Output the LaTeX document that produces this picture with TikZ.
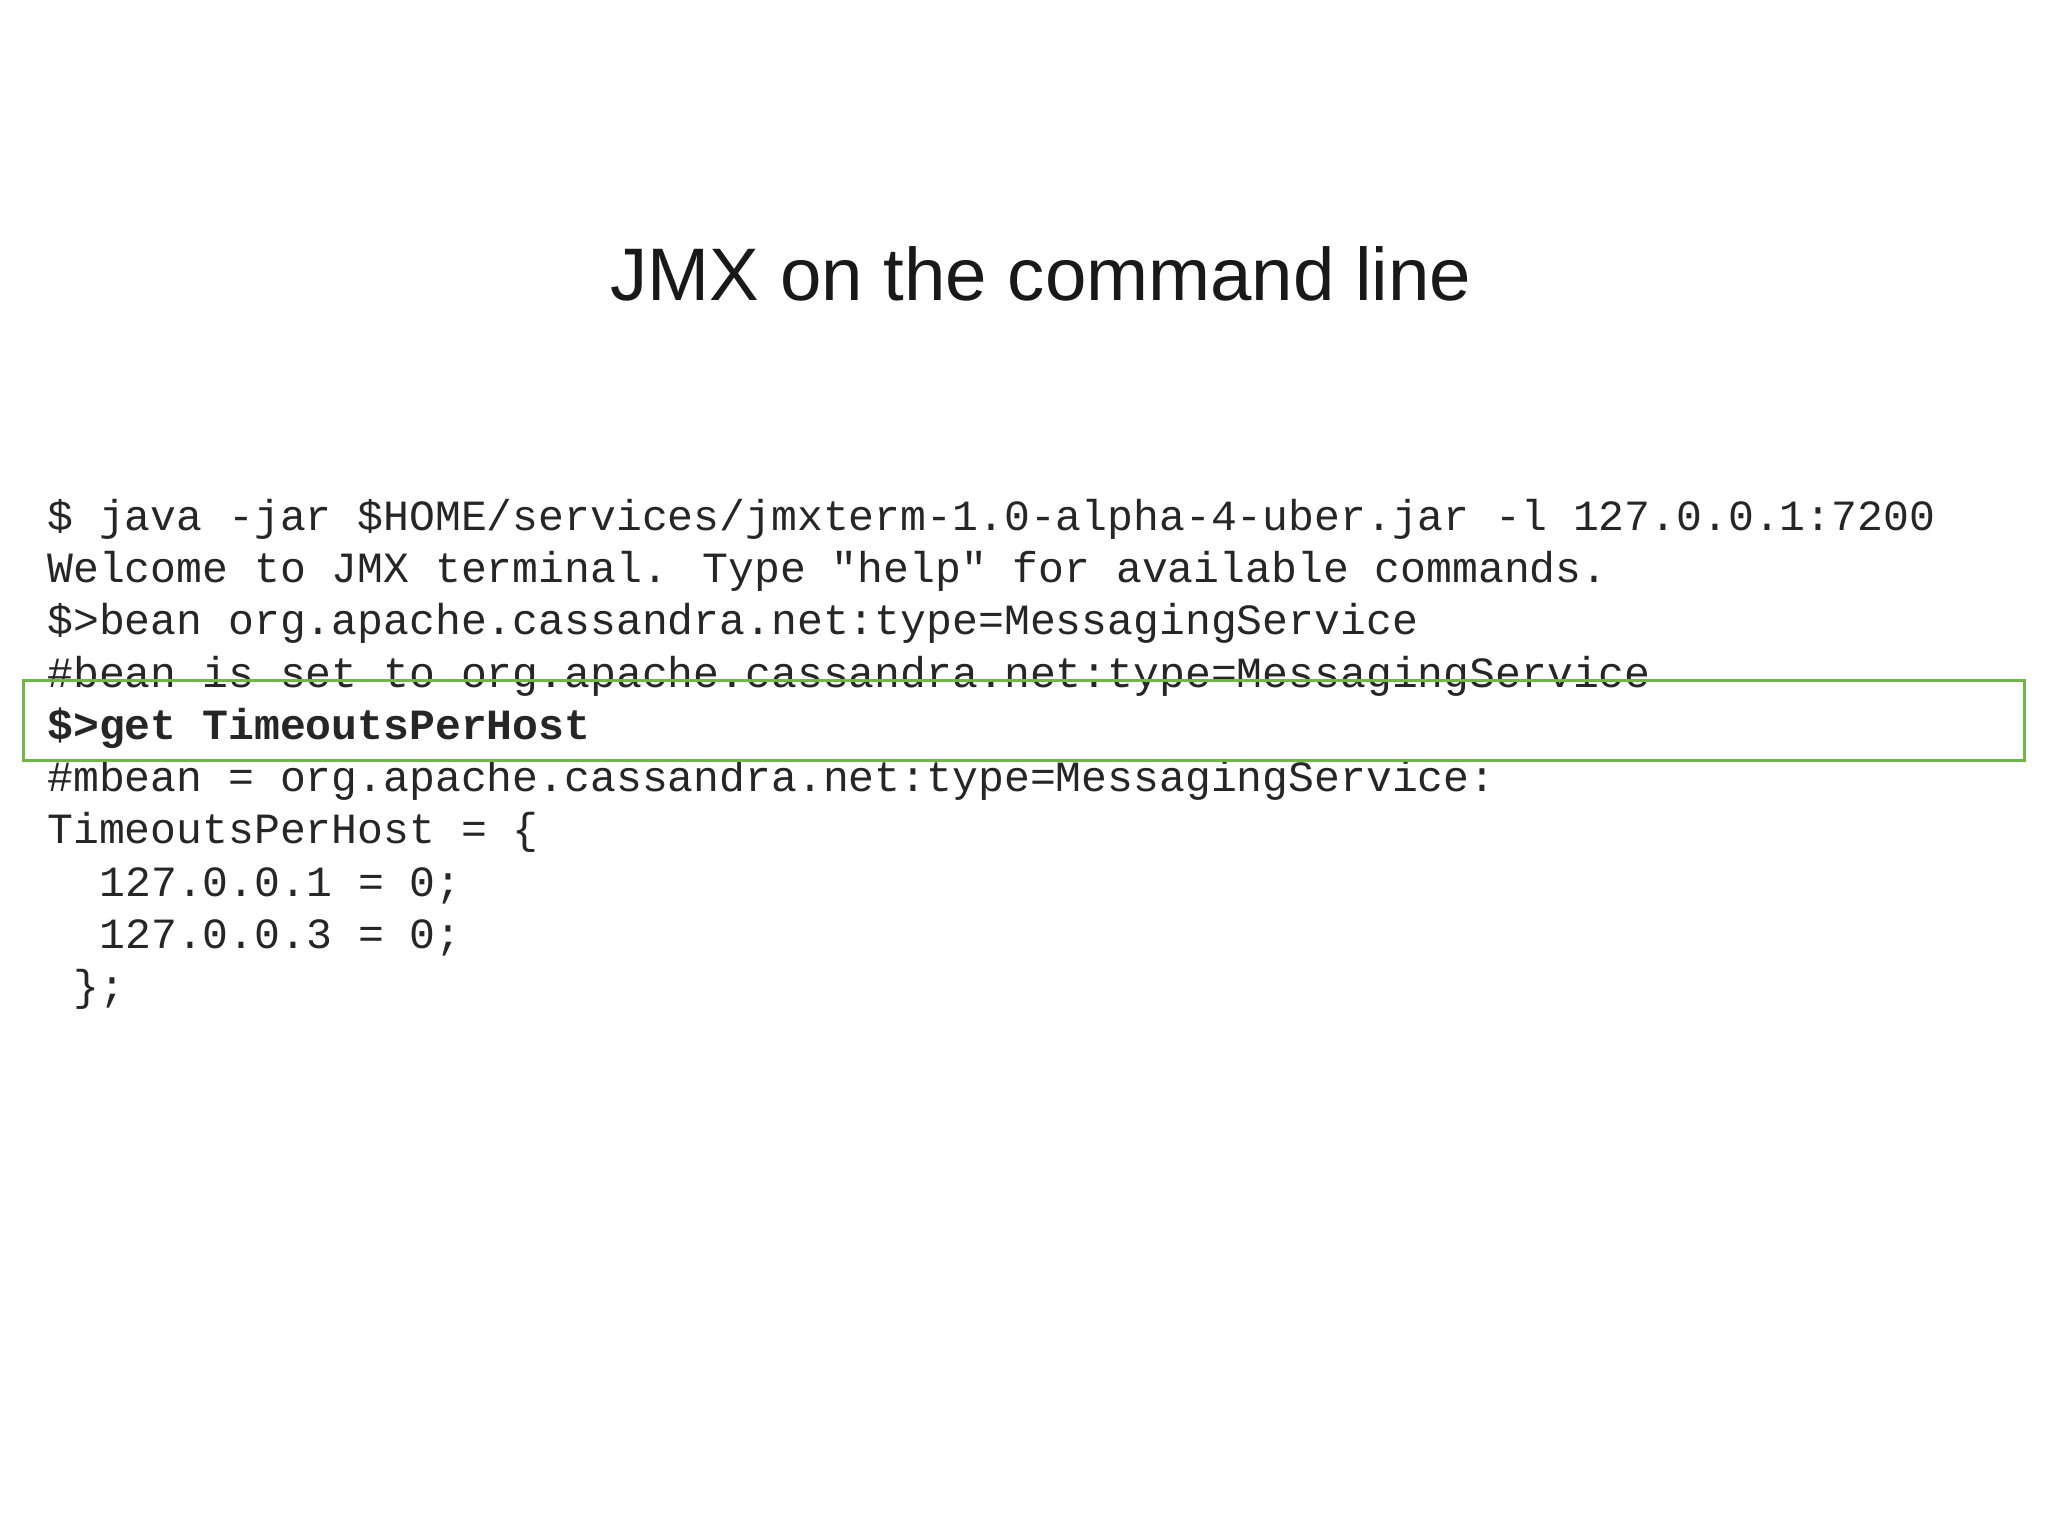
\documentclass[tikz,border=0pt]{standalone}
\usepackage{fontspec}
\setmainfont{Liberation Sans}
\newfontfamily\codefont{Liberation Mono}
\definecolor{boxgreen}{RGB}{112,182,72}
\begin{document}
\begin{tikzpicture}[x=1pt,y=-1pt,
  code/.style={anchor=base west,inner sep=0pt,font=\codefont\fontsize{33}{40}\selectfont,text=black!85}]
\useasboundingbox (0,0) rectangle (1568,1176);
\node[anchor=base,inner sep=0pt,font=\fontsize{57}{68}\selectfont,text=black!90] (title) at (797,230) {JMX on the command line};
\node[code] (l1) at (36,406) {\$ java -jar \$HOME/services/jmxterm-1.0-alpha-4-uber.jar -l 127.0.0.1:7200};
\node[code] (l2) at (36,446) {Welcome to JMX terminal. Type "help" for available commands.};
\node[code] (l3) at (36,486) {\$>bean org.apache.cassandra.net:type=MessagingService};
\node[code] (l4) at (36,526) {\#bean is set to org.apache.cassandra.net:type=MessagingService};
\node[code,font=\codefont\bfseries\fontsize{33}{40}\selectfont] (l5) at (36,566) {\$>get TimeoutsPerHost};
\node[code] (l6) at (36,606) {\#mbean = org.apache.cassandra.net:type=MessagingService:};
\node[code] (l7) at (36,646) {TimeoutsPerHost = \{};
\node[code] (l8) at (76,686) {127.0.0.1 = 0;};
\node[code] (l9) at (76,726) {127.0.0.3 = 0;};
\node[code] (l10) at (56,766) {\};};
\draw[boxgreen,line width=2.5pt] (18,521) rectangle (1550,582);
\end{tikzpicture}
\end{document}
